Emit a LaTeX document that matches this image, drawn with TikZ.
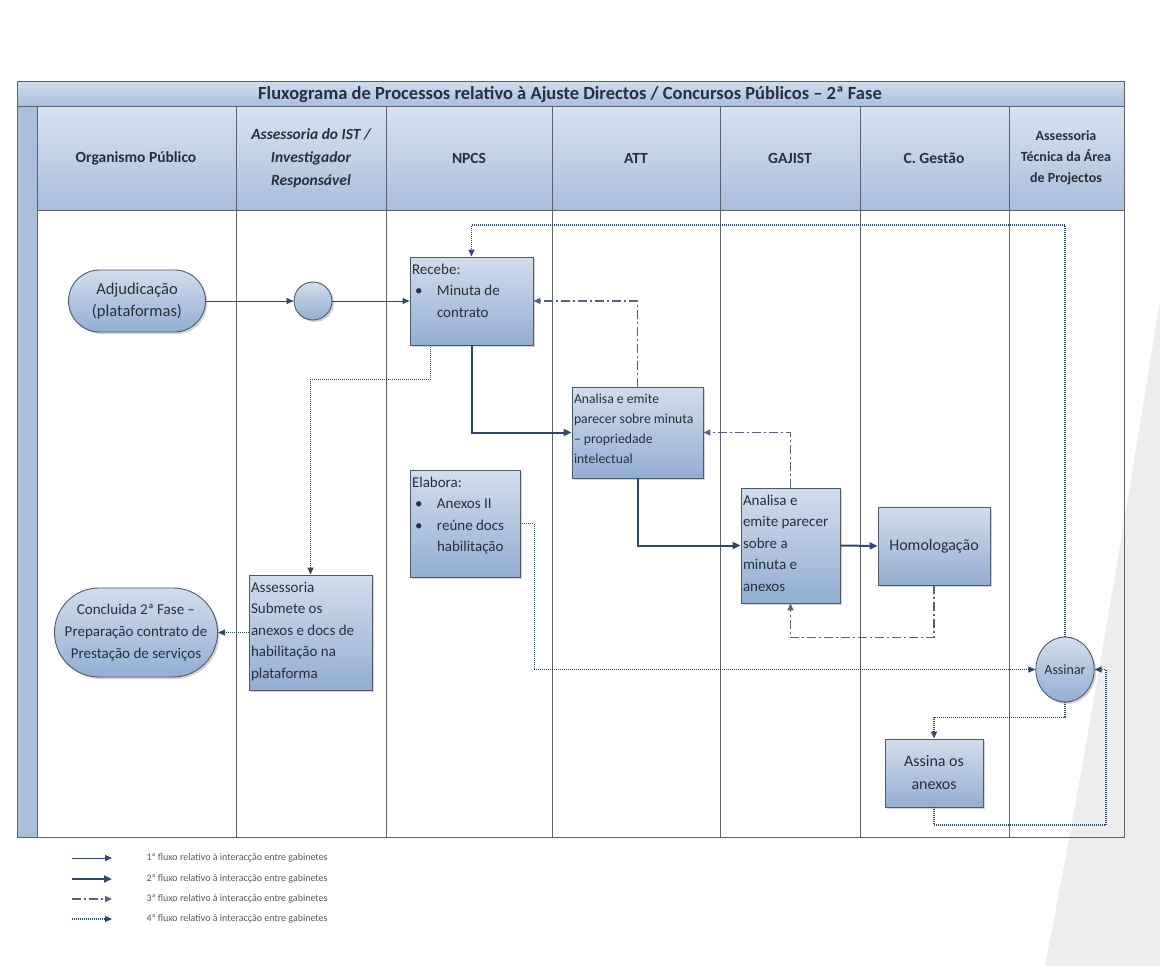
\documentclass[tikz,border=0pt]{standalone}
\usepackage{fontspec}
\setmainfont{Carlito}
\usetikzlibrary{arrows.meta,shadows,shapes.misc,shapes.geometric,positioning}

\definecolor{slidegray}{HTML}{EDEDED}
\definecolor{titletop}{HTML}{CFDBEB}
\definecolor{titlebot}{HTML}{A9BFDC}
\definecolor{lanelight}{HTML}{D9E3F0}
\definecolor{laneblue}{HTML}{A8BEDB}
\definecolor{boxtop}{HTML}{D2DDEC}
\definecolor{boxbot}{HTML}{93AED2}
\definecolor{boxline}{HTML}{4E5A6A}
\definecolor{flowline}{HTML}{33466A}
\definecolor{flowdash}{HTML}{55647C}
\definecolor{inktext}{HTML}{27303D}
\definecolor{gridline}{HTML}{5A636F}

\newcommand{\boxtext}[3]{\parbox[c][#2pt][t]{#1pt}{\raggedright\strut #3}}
\newcommand{\blt}{\makebox[25pt][l]{\hspace{3pt}\textbullet}}
\newcommand{\ind}{\hspace*{25pt}}

\tikzset{
  stepbox/.style={rectangle, draw=boxline, line width=0.9pt,
    top color=boxtop, bottom color=boxbot, text=inktext, inner sep=2pt,
    font=\fontsize{15}{21.5}\selectfont, align=left,
    drop shadow={opacity=0.35, shadow xshift=2pt, shadow yshift=-2pt}},
  endbox/.style={rounded rectangle, draw=boxline, line width=0.9pt,
    top color=boxtop, bottom color=boxbot, text=inktext, inner sep=0pt,
    align=center, drop shadow={opacity=0.35, shadow xshift=2pt, shadow yshift=-2pt}},
  lanehead/.style={text=inktext, align=center, font=\fontsize{15.5}{23}\selectfont\bfseries},
  flowA/.style={-{Triangle[length=7pt,width=6pt]}, draw=flowline, line width=0.8pt},
  flowB/.style={-{Triangle[length=8pt,width=7pt]}, draw=flowline, line width=2pt},
  flowC/.style={-{Triangle[length=7pt,width=6pt]}, draw=flowdash, line width=1.3pt,
    dash pattern=on 9pt off 3pt on 2pt off 3pt},
  flowD/.style={-{Triangle[length=7pt,width=6pt]}, draw=flowline, line width=1.1pt,
    dash pattern=on 1pt off 1pt},
  legendtext/.style={anchor=west, text=black!65, font=\fontsize{10}{12}\selectfont}
}

\begin{document}
\begin{tikzpicture}[x=1pt,y=-1pt]
\useasboundingbox (0,0) rectangle (1160,966);
\fill[slidegray] (1160,300) .. controls (1125,520) and (1085,760) .. (1045,966) -- (1160,966) -- cycle;

% frame, title bar and lane headers
\shade[top color=titletop, bottom color=titlebot] (17,82) rectangle (1124,106);
\fill[laneblue] (17,106) rectangle (37,837);
\shade[top color=lanelight, bottom color=laneblue] (37,106) rectangle (1124,210);
\foreach \x in {236,386,552,720,860,1009}
  \draw[gridline, line width=0.8pt] (\x,106) -- (\x,837);
\draw[gridline, line width=0.8pt] (17,106) -- (1124,106) (37,210) -- (1124,210) (37,106) -- (37,837);
\draw[gridline, line width=1pt] (17,82) rectangle (1124,837);

\node[text=inktext, font=\fontsize{18.5}{20}\selectfont\bfseries] (title) at (570,94.5)
  {Fluxograma de Processos relativo à Ajuste Directos / Concursos Públicos – 2ª Fase};
\foreach \x/\t in {136/Organismo Público, 469/NPCS, 636/ATT, 790/GAJIST, 934/C. Gestão}
  \node[lanehead] (head\x) at (\x,158) {\t};
\node[lanehead, font=\fontsize{15.5}{23}\selectfont\bfseries\itshape] (headist) at (311,158)
  {Assessoria do IST /\\Investigador\\Responsável};
\node[lanehead, font=\fontsize{14}{21}\selectfont\bfseries] (headatap) at (1066,158)
  {Assessoria\\Técnica da Área\\de Projectos};

% process boxes
\node[endbox, minimum width=137, minimum height=62, font=\fontsize{16.5}{22}\selectfont] (adj) at (137,301)
  {Adjudicação\\(plataformas)};
\node[circle, draw=boxline, line width=0.9pt, top color=boxtop, bottom color=boxbot,
  minimum size=38, inner sep=0pt, drop shadow={opacity=0.35, shadow xshift=2pt, shadow yshift=-2pt}] (hub) at (313,301) {};
\node[stepbox, minimum width=123, minimum height=88] (recebe) at (471.5,301)
  {\boxtext{119}{84}{Recebe:\\ \blt Minuta de\\ \ind contrato}};
\node[stepbox, minimum width=131, minimum height=91, font=\fontsize{13.7}{20}\selectfont] (att) at (637.5,432.5)
  {\boxtext{127}{87}{Analisa e emite\\parecer sobre minuta\\– propriedade\\intelectual}};
\node[stepbox, minimum width=110, minimum height=107] (elabora) at (465,523.5)
  {\boxtext{106}{103}{Elabora:\\ \blt Anexos II\\ \blt reúne docs\\ \ind habilitação}};
\node[stepbox, minimum width=99, minimum height=115] (gajist) at (790.5,545.5)
  {\boxtext{95}{111}{Analisa e\\emite parecer\\sobre a\\minuta e\\anexos}};
\node[stepbox, minimum width=112, minimum height=78, align=center, font=\fontsize{16}{20}\selectfont] (homolog) at (934,546)
  {Homologação};
\node[stepbox, minimum width=123, minimum height=115] (assess) at (310.5,632.5)
  {\boxtext{119}{111}{Assessoria\\Submete os\\anexos e docs de\\habilitação na\\plataforma}};
\node[endbox, minimum width=158, minimum height=89, font=\fontsize{15}{22}\selectfont] (concl) at (136,632.5)
  {Concluida 2ª Fase –\\Preparação contrato de\\Prestação de serviços};
\node[ellipse, draw=boxline, line width=0.9pt, top color=boxtop, bottom color=boxbot, text=inktext,
  minimum width=54, minimum height=65, inner sep=0pt, font=\fontsize{14}{17}\selectfont,
  drop shadow={opacity=0.35, shadow xshift=2pt, shadow yshift=-2pt}] (assinar) at (1065,669.5) {Assinar};
\node[stepbox, minimum width=98, minimum height=68, align=center, font=\fontsize{16}{23}\selectfont] (assina) at (934,773)
  {Assina os\\anexos};

\coordinate (toprail) at (471.5,225);
\coordinate (botrail) at (1106,825);

% 1st flow
\draw[flowA] (adj.east) -- (hub.west);
\draw[flowA] (hub.east) -- (recebe.west);
% 2nd flow
\draw[flowB] (recebe.south) |- (att.west);
\draw[flowB] (att.south) |- (gajist.west);
\draw[flowB] (gajist.east) -- (homolog.west);
% 3rd flow
\draw[flowC] (homolog.south) -- ++(0,52) -| (gajist.south);
\draw[flowC] (gajist.north) |- (att.east);
\draw[flowC] (att.north) |- (recebe.east);
% 4th flow
\draw[flowD] ([xshift=-41pt]recebe.south) -- ++(0,34) -| (assess.north);
\draw[flowD] (assess.west) -- (concl.east);
\draw[flowD] (elabora.east) -- ++(14,0) |- (assinar.west);
\draw[flowD] (assinar.north) |- (toprail) -- (recebe.north);
\draw[flowD] (assinar.south) -- ++(0,15) -| (assina.north);
\draw[flowD] (assina.south) |- (botrail) |- (assinar.east);

% legend
\foreach \i/\y/\s in {1/858/flowA, 2/879/flowB, 3/899/flowC, 4/919/flowD} {
  \coordinate (leg\i a) at (72,\y);
  \coordinate (leg\i b) at (112,\y);
  \draw[\s] (leg\i a) -- (leg\i b);
  \node[legendtext] (legtext\i) at (143,\y) {{\i}ª fluxo relativo à interacção entre gabinetes};
}
\end{tikzpicture}
\end{document}
